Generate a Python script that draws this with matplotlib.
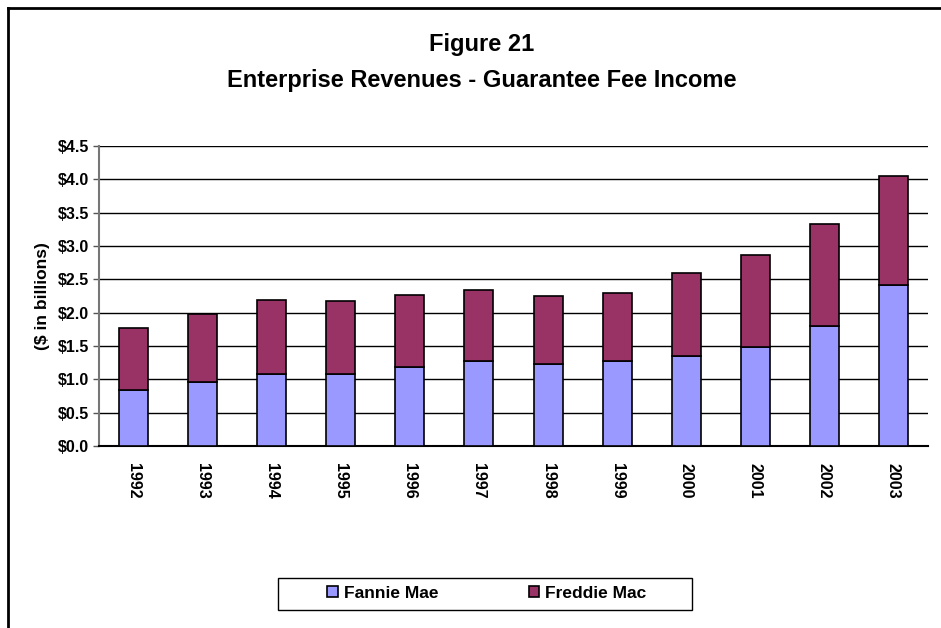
import matplotlib.pyplot as plt
import numpy as np
from matplotlib.patches import Rectangle
from matplotlib.lines import Line2D

plt.rcParams['font.family'] = ['Liberation Sans', 'DejaVu Sans']
plt.rcParams['font.weight'] = 'bold'

# data ($ billions)
years = ['1992', '1993', '1994', '1995', '1996', '1997',
         '1998', '1999', '2000', '2001', '2002', '2003']
fannie = [0.835, 0.96, 1.085, 1.085, 1.18, 1.28,
          1.23, 1.28, 1.355, 1.48, 1.805, 2.415]
total = [1.775, 1.975, 2.195, 2.17, 2.27, 2.345,
         2.25, 2.295, 2.595, 2.865, 3.335, 4.055]
freddie = [t - f for t, f in zip(total, fannie)]

fig = plt.figure(figsize=(9.41, 6.28), dpi=100)
W, H = 941, 628

# outer frame (top and left edges visible, runs off the right/bottom)
fig.add_artist(Line2D([8 / W, 1.0], [1 - 8 / H, 1 - 8 / H], color='black', lw=2, transform=fig.transFigure))
fig.add_artist(Line2D([8 / W, 8 / W], [0, 1 - 8 / H], color='black', lw=2, transform=fig.transFigure))

ax = fig.add_axes([99 / W, 1 - 446 / H, (928 - 99) / W, (446 - 146) / H])

x = np.arange(len(years))
ax.bar(x, fannie, width=0.42, color='#9999ff', edgecolor='black', lw=1.2, zorder=3, label='Fannie Mae')
ax.bar(x, freddie, width=0.42, bottom=fannie, color='#993366', edgecolor='black', lw=1.2, zorder=3, label='Freddie Mac')

ax.set_xlim(-0.5, len(years) - 0.5)
ax.set_ylim(0, 4.5)
ax.set_yticks(np.arange(0, 4.51, 0.5))
ax.set_yticklabels(['$%.1f' % v for v in np.arange(0, 4.51, 0.5)], fontsize=11.5, fontweight='bold')
ax.set_xticks(x)
ax.set_xticklabels(years, rotation=-90, fontsize=11.5, fontweight='bold')
ax.tick_params(axis='x', length=0, pad=12)
ax.tick_params(axis='y', length=4, width=1, color='#555555', pad=3)
ax.grid(axis='y', color='black', lw=1, zorder=0)

for s in ['top', 'right']:
    ax.spines[s].set_visible(False)
ax.spines['left'].set_color('#777777')
ax.spines['left'].set_linewidth(1.5)
ax.spines['bottom'].set_color('black')
ax.spines['bottom'].set_linewidth(1.5)

ax.set_ylabel('($ in billions)', fontsize=12.5, fontweight='bold', labelpad=6)

fig.text(482 / W, 1 - 45 / H, 'Figure 21', ha='center', va='center', fontsize=17, fontweight='bold')
fig.text(482 / W, 1 - 80 / H, 'Enterprise Revenues - Guarantee Fee Income', ha='center', va='center',
         fontsize=17, fontweight='bold')

# legend box
fig.add_artist(Rectangle((278 / W, 1 - 610 / H), (692 - 278) / W, 32 / H, transform=fig.transFigure,
                         fill=False, edgecolor='black', lw=1))
leg = fig.legend(loc='center', bbox_to_anchor=(487 / W, 1 - 593 / H), ncol=2, frameon=False,
                 fontsize=12.5, handlelength=0.6, handleheight=0.6,
                 columnspacing=5.2, handletextpad=0.35)

fig.savefig('out.png', dpi=100)
